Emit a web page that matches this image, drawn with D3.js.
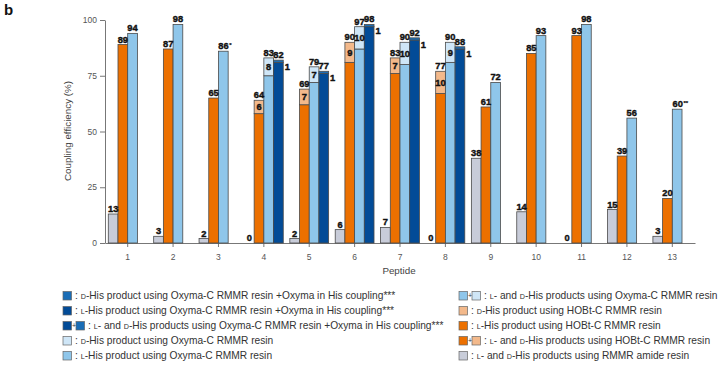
<!DOCTYPE html>
<html><head><meta charset="utf-8">
<script src="https://cdn.jsdelivr.net/npm/d3@7/dist/d3.min.js"></script>
<style>
body{margin:0;background:#fff;}
svg{display:block;font-family:"Liberation Sans",Arial,sans-serif;}
</style></head>
<body><svg id="c" width="719" height="368"></svg>
<script>
const peptides = ["1","2","3","4","5","6","7","8","9","10","11","12","13"];
const yTicks = [0,25,50,75,100];
// RMMR amide resin (L + D)
const amide = [13,3,2,0,2,6,7,0,38,14,0,15,3];
// HOBt-C RMMR resin
const hobtL = [89,87,65,58,62,81,76,67,61,85,93,39,20];
const hobtD = [null,null,null,6,7,9,7,10,null,null,null,null,null];
// Oxyma-C RMMR resin
const oxyL = [94,98,86,75,72,87,80,81,72,93,98,56,60];
const oxyD = [null,null,null,8,7,10,10,9,null,null,null,null,null];
const oxyNote = ["","","*","","","","","","","","","","**"];
// Oxyma-C RMMR resin + Oxyma in His coupling
const oxpL = [null,null,null,81,76,97,91,87,null,null,null,null,null];
const oxpD = [null,null,null,1,1,1,1,1,null,null,null,null,null];

const C = {
  gray:"#c8ccd9", orange:"#ec7000", lorange:"#f3b98b",
  lblue:"#8fc6ea", pblue:"#cfe6f7", dblue:"#024b97", mblue:"#1a6db6",
  stroke:"#4a4a4a"
};

const svg = d3.select("#c");
const x = d3.scaleBand().domain(peptides).range([105,695]).paddingInner(0.145).paddingOuter(0.0725);
const xs = d3.scaleBand().domain(["amide","hobt","oxy","oxp"]).range([0,x.bandwidth()]);
const y = d3.scaleLinear().domain([0,100]).range([243,20]);

// axes
const ya = svg.append("g").attr("transform","translate(105,0)")
  .call(d3.axisLeft(y).tickValues(yTicks).tickSize(5).tickSizeOuter(0));
const xa = svg.append("g").attr("transform","translate(0,243)")
  .call(d3.axisBottom(x).tickSize(4).tickSizeOuter(0));
[ya,xa].forEach(a=>{
  a.select(".domain").attr("stroke","#777");
  a.selectAll(".tick line").attr("stroke","#777");
  a.selectAll(".tick text").attr("fill","#555").attr("font-size",8.5)
   .attr("font-family","Liberation Sans, Arial, sans-serif");
});
xa.selectAll(".tick text").attr("dy","1.2em");

svg.append("text").attr("transform","translate(71,131) rotate(-90)")
  .attr("text-anchor","middle").attr("font-size",9.8).attr("fill","#444")
  .text("Coupling efficiency (%)");
svg.append("text").attr("x",399).attr("y",274).attr("text-anchor","middle")
  .attr("font-size",9.8).attr("fill","#444").text("Peptide");
svg.append("text").attr("x",4).attr("y",15).attr("font-size",15)
  .attr("font-weight","bold").attr("fill","#111").text("b");

const bars = svg.append("g");
const labels = svg.append("g").attr("font-weight","bold").attr("font-size",9.3)
  .attr("fill","#111").attr("text-anchor","middle")
  .attr("stroke","#111").attr("stroke-width",0.4);

function rect(key, i, v0, v1, fill){
  bars.append("rect")
    .attr("x", x(peptides[i]) + xs(key))
    .attr("width", xs.bandwidth())
    .attr("y", y(v1))
    .attr("height", Math.max(0, y(v0)-y(v1)))
    .attr("fill", fill).attr("stroke", C.stroke).attr("stroke-width",0.8);
}
function lab(key, i, v, txt, dy){
  labels.append("text")
    .attr("x", x(peptides[i]) + xs(key) + xs.bandwidth()/2)
    .attr("y", y(v) + (dy||0))
    .text(txt);
}

peptides.forEach((p,i)=>{
  // amide
  rect("amide", i, 0, amide[i], C.gray);
  lab("amide", i, amide[i], amide[i], -2);
  // HOBt
  if (hobtD[i]==null){
    rect("hobt", i, 0, hobtL[i], C.orange);
    lab("hobt", i, hobtL[i], hobtL[i], -2);
  } else {
    const t = hobtL[i]+hobtD[i];
    rect("hobt", i, 0, hobtL[i], C.orange);
    rect("hobt", i, hobtL[i], t, C.lorange);
    lab("hobt", i, t, t, -2);
    lab("hobt", i, (hobtL[i]+t)/2, hobtD[i], 3.2);
  }
  // Oxyma
  if (oxyD[i]==null){
    rect("oxy", i, 0, oxyL[i], C.lblue);
    const tx = labels.append("text")
      .attr("x", x(p) + xs("oxy") + xs.bandwidth()/2 + (oxyNote[i]? oxyNote[i].length*1.6:0))
      .attr("y", y(oxyL[i]) - 2).text(oxyL[i]);
    if (oxyNote[i]) tx.append("tspan").attr("font-size",6).attr("stroke-width",0.2).attr("dx",0.5).attr("dy",-2.5).text(oxyNote[i]);
  } else {
    const t = oxyL[i]+oxyD[i];
    rect("oxy", i, 0, oxyL[i], C.lblue);
    rect("oxy", i, oxyL[i], t, C.pblue);
    lab("oxy", i, t, t, -2);
    lab("oxy", i, (oxyL[i]+t)/2, oxyD[i], 3.2);
  }
  // Oxyma + Oxyma in His coupling
  if (oxpL[i]!=null){
    const t = oxpL[i]+oxpD[i];
    rect("oxp", i, 0, oxpL[i], C.dblue);
    rect("oxp", i, oxpL[i], t, C.mblue);
    lab("oxp", i, t, t, -2);
    labels.append("text")
      .attr("x", x(p) + xs("oxp") + xs.bandwidth() + 4)
      .attr("y", y(t) + 10).text(oxpD[i]);
  }
});

// legend
const legendLeft = [
  {sw:[C.mblue], parts:[": ",["D"],"-His product using Oxyma-C RMMR resin +Oxyma in His coupling***"]},
  {sw:[C.dblue], parts:[": ",["L"],"-His product using Oxyma-C RMMR resin +Oxyma in His coupling***"]},
  {sw:[C.dblue,C.mblue], parts:[": ",["L"],"- and ",["D"],"-His products using Oxyma-C RMMR resin +Oxyma in His coupling***"]},
  {sw:[C.pblue], parts:[": ",["D"],"-His product using Oxyma-C RMMR resin"]},
  {sw:[C.lblue], parts:[": ",["L"],"-His product using Oxyma-C RMMR resin"]}
];
const legendRight = [
  {sw:[C.lblue,C.pblue], parts:[": ",["L"],"- and ",["D"],"-His products using Oxyma-C RMMR resin"]},
  {sw:[C.lorange], parts:[": ",["D"],"-His product using HOBt-C RMMR resin"]},
  {sw:[C.orange], parts:[": ",["L"],"-His product using HOBt-C RMMR resin"]},
  {sw:[C.orange,C.lorange], parts:[": ",["L"],"- and ",["D"],"-His products using HOBt-C RMMR resin"]},
  {sw:[C.gray], parts:[": ",["L"],"- and ",["D"],"-His products using RMMR amide resin"]}
];
function drawLegend(items, x0){
  items.forEach((it,k)=>{
    const yc = 296 + k*15;
    let cx = x0;
    it.sw.forEach((col,j)=>{
      if (j>0){
        svg.append("text").attr("x",cx+0.5).attr("y",yc+2).attr("font-size",7)
          .attr("fill","#333").text("+");
        cx += 4.5;
      }
      svg.append("rect").attr("x",cx).attr("y",yc-4.5).attr("width",8.5).attr("height",8.5)
        .attr("fill",col).attr("stroke","#666").attr("stroke-width",0.7);
      cx += 8.5;
    });
    const t = svg.append("text").attr("x",cx+3.5).attr("y",yc+3.4)
      .attr("font-size",10.2).attr("fill","#333");
    it.parts.forEach(pt=>{
      if (Array.isArray(pt)) t.append("tspan").attr("font-size",7.2).text(pt[0]);
      else t.append("tspan").text(pt);
    });
  });
}
drawLegend(legendLeft, 63);
drawLegend(legendRight, 459);
</script></body></html>
